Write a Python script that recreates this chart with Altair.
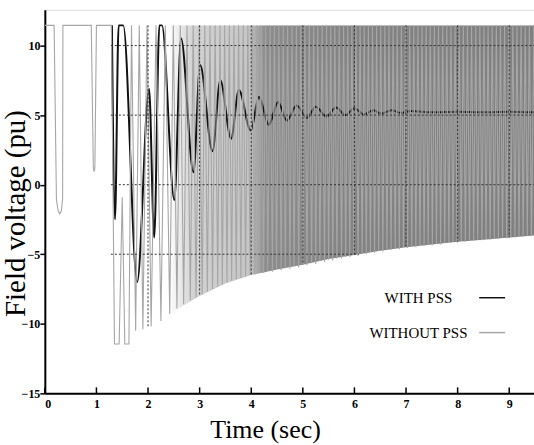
import altair as alt
import pandas as pd
import numpy as np

# ---------------- data ----------------
CEILING = 11.45   # exciter ceiling (pu)

# WITH PSS : field voltage (extremes, from the first drop)
with_t = [1.30, 1.36, 1.43, 1.52, 1.79, 2.02, 2.12, 2.22, 2.27, 2.51, 2.64,
          2.88, 3.01, 3.25, 3.40, 3.61, 3.76, 3.99, 4.15, 4.34, 4.52, 4.69, 4.88,
          5.08, 5.25, 5.46, 5.64, 5.83, 6.00, 6.18, 6.37, 6.52, 6.72, 6.90, 7.10,
          7.50, 8.00, 8.50, 9.00, 9.48]
with_v = [11.45, -2.5, 11.45, 11.45, -7.0, 6.9, -3.8, 11.45, 11.45, -1.1, 10.5,
          0.9, 8.6, 2.4, 7.5, 3.3, 6.8, 3.9, 6.3, 4.3, 5.95, 4.6, 5.7,
          4.8, 5.6, 4.9, 5.55, 5.0, 5.5, 5.05, 5.35, 5.1, 5.35, 5.15, 5.3,
          5.2, 5.25, 5.2, 5.25, 5.2]

# WITHOUT PSS : first part of the trace (before the sustained oscillation)
early_t = [0.0, 0.18, 0.225, 0.26, 0.29, 0.32, 0.345, 0.35, 0.90, 0.94, 0.955, 0.97,
           1.00, 1.29, 1.35, 1.44, 1.50, 1.55, 1.63, 1.68]
early_v = [11.45, 11.45, -1.1, -1.9, -2.1, -1.9, -1.0, 11.45, 11.45, 1.2, 0.93, 1.2,
           11.45, 11.45, -11.45, -11.45, -0.9, -11.45, -11.45, 11.45]

# WITHOUT PSS : troughs of the sustained oscillation (peaks sit at the ceiling)
trough_t = [1.76, 1.90, 2.06, 2.25, 2.42, 2.56, 2.69, 2.82, 2.93, 3.05, 3.15, 3.25,
            3.35, 3.44, 3.53, 3.62, 3.71, 3.80, 3.89, 3.98,
            4.07, 4.15, 4.24, 4.32, 4.41, 4.49, 4.58, 4.66, 4.75, 4.83, 4.92, 5.00,
            5.08, 5.17, 5.25, 5.33, 5.42, 5.50, 5.58, 5.66, 5.75, 5.83, 5.91, 5.99,
            6.07, 6.15, 6.23, 6.31, 6.39, 6.47, 6.55, 6.63, 6.71, 6.79, 6.87, 6.95,
            7.03, 7.11, 7.19, 7.27, 7.35, 7.43, 7.51, 7.59, 7.67, 7.75, 7.83, 7.91,
            7.99, 8.07, 8.15, 8.23, 8.31, 8.39, 8.47, 8.55, 8.63, 8.71, 8.79, 8.87,
            8.95, 9.03, 9.11, 9.19, 9.27, 9.35, 9.43]
trough_v = [-10.5, -10.4, -10.2, -9.8, -9.3, -8.9, -8.6, -8.3, -8.1, -7.9, -7.7, -7.5,
            -7.35, -7.2, -7.05, -6.9, -6.8, -6.7, -6.6, -6.5,
            -6.45, -6.3, -6.35, -6.2, -6.25, -6.1, -6.15, -6.0, -6.05, -5.9, -5.95, -5.75,
            -5.8, -5.65, -5.7, -5.5, -5.55, -5.4, -5.45, -5.3, -5.3, -5.2, -5.2, -5.05,
            -5.1, -4.95, -5.0, -4.85, -4.9, -4.75, -4.8, -4.65, -4.7, -4.6, -4.65, -4.5,
            -4.55, -4.45, -4.5, -4.35, -4.4, -4.3, -4.35, -4.25, -4.3, -4.2, -4.2, -4.1,
            -4.15, -4.05, -4.1, -4.0, -4.05, -3.95, -4.0, -3.9, -3.95, -3.85, -3.9, -3.8,
            -3.85, -3.75, -3.8, -3.7, -3.75, -3.65, -3.7]
end_t = 9.48

# lower envelope of the WITHOUT PSS band
env_t = [1.70, 2.0, 2.25, 2.5, 3.0, 3.5, 4.0, 4.5, 5.0, 5.5, 6.0, 6.5, 7.0, 7.5,
         8.0, 8.5, 9.0, 9.48]
env_v = [-10.5, -10.3, -9.8, -9.1, -8.0, -7.1, -6.5, -6.1, -5.75, -5.35, -5.05,
         -4.75, -4.5, -4.3, -4.1, -3.95, -3.8, -3.65]

x_ticks = [0, 1, 2, 3, 4, 5, 6, 7, 8, 9]
y_ticks = [-15, -10, -5, 0, 5, 10]
h_grid = [10, 5, 0, -5]
v_grid = [2, 3, 4, 5, 6, 7, 8, 9]
grid_start = 1.28

legend_labels = ["WITH PSS", "WITHOUT PSS"]
legend_colors = ["#111111", "#a6a6a6"]

# ---------------- tables ----------------
with_df = pd.DataFrame({"t": with_t, "v": with_v})

g_t = list(early_t)
g_v = list(early_v)
for i, (t, v) in enumerate(zip(trough_t, trough_v)):
    if i > 0:
        g_t.append((trough_t[i - 1] + t) / 2)
        g_v.append(CEILING)
    g_t.append(t)
    g_v.append(v)
g_t.append(end_t)
g_v.append(CEILING)
without_df = pd.DataFrame({"t": g_t, "v": g_v, "o": range(len(g_t))})

env_df = pd.DataFrame({"t": env_t, "v": env_v, "top": [CEILING] * len(env_t)})

cross_m5 = float(np.interp(-5, env_v, env_t))
hgrid_df = pd.DataFrame({
    "y": h_grid,
    "x1": [grid_start] * len(h_grid),
    "x2": [end_t if h > -5 else cross_m5 for h in h_grid],
})
vgrid_df = pd.DataFrame({
    "x": v_grid,
    "y1": [CEILING] * len(v_grid),
    "y2": [float(np.interp(t, env_t, env_v)) for t in v_grid],
})
xtick_df = pd.DataFrame({"x": x_ticks})

# ---------------- chart ----------------
XDOM = [0, end_t]
YDOM = [-15, 12.57]
SERIF = "Liberation Serif"

xscale = alt.Scale(domain=XDOM, nice=False, zero=False)
yscale = alt.Scale(domain=YDOM, nice=False, zero=False)

xaxis = alt.Axis(values=x_ticks, format="d", ticks=False, grid=False,
                 domainColor="#000", domainWidth=2,
                 labelFont=SERIF, labelFontSize=12, labelFontWeight="bold",
                 labelColor="#000", labelPadding=5,
                 title="Time (sec)", titleFont=SERIF, titleFontSize=26,
                 titleFontWeight="normal", titleColor="#000",
                 titleX=221, titleY=44, titleBaseline="alphabetic", titleAlign="center")
yaxis = alt.Axis(values=y_ticks, format="d", grid=False,
                 domainColor="#000", domainWidth=2,
                 tickColor="#000", tickSize=5, tickWidth=1.5,
                 labelFont=SERIF, labelFontSize=12, labelFontWeight="bold",
                 labelColor="#000", labelPadding=0,
                 title="Field voltage (pu)", titleFont=SERIF, titleFontSize=29,
                 titleFontWeight="normal", titleColor="#000",
                 titleX=-20, titleY=204, titleAngle=-90,
                 titleBaseline="alphabetic", titleAlign="center")

band = alt.Chart(env_df).mark_area(
    clip=True,
    color=alt.LinearGradient(
        gradient="linear", x1=0, x2=1, y1=0, y2=0,
        stops=[alt.GradientStop(color="#ffffff", offset=0.0),
               alt.GradientStop(color="#ffffff", offset=0.09),
               alt.GradientStop(color="#d2d2d2", offset=0.15),
               alt.GradientStop(color="#c6c6c6", offset=0.29),
               alt.GradientStop(color="#8c8c8c", offset=0.33),
               alt.GradientStop(color="#838383", offset=0.55),
               alt.GradientStop(color="#808080", offset=1.0)]),
).encode(
    x=alt.X("t:Q", scale=xscale, axis=xaxis),
    y=alt.Y("v:Q", scale=yscale, axis=yaxis),
    y2="top:Q",
)

with_line = alt.Chart(with_df).mark_line(
    clip=True, color=legend_colors[0], strokeWidth=2, interpolate="monotone"
).encode(x="t:Q", y="v:Q")

without_line = alt.Chart(without_df).mark_line(
    clip=True, color=legend_colors[1], strokeWidth=1.1
).encode(x="t:Q", y="v:Q", order="o:Q")

hgrid = alt.Chart(hgrid_df).mark_rule(
    color="#333", strokeWidth=1, strokeDash=[2, 2]
).encode(x="x1:Q", x2="x2:Q", y="y:Q")

vgrid = alt.Chart(vgrid_df).mark_rule(
    color="#333", strokeWidth=1, strokeDash=[2, 2]
).encode(x="x:Q", y="y1:Q", y2="y2:Q")

xticks = alt.Chart(xtick_df).mark_rule(color="#000", strokeWidth=1.5).encode(
    x="x:Q", y=alt.value(385), y2=alt.value(379))

leg_layers = []
leg_y = [289, 324]
for lab, col, ly in zip(legend_labels, legend_colors, leg_y):
    leg_layers.append(
        alt.Chart(pd.DataFrame({"label": [lab]})).mark_text(
            font=SERIF, fontSize=15, color="#000", align="center", baseline="middle"
        ).encode(x=alt.value(375), y=alt.value(ly), text="label:N"))
    leg_layers.append(
        alt.Chart(pd.DataFrame({"label": [lab]})).mark_rule(
            color=col, strokeWidth=1.5
        ).encode(x=alt.value(436), x2=alt.value(462), y=alt.value(ly)))

chart = alt.layer(band, with_line, without_line, hgrid, vgrid, xticks, *leg_layers).properties(
    width=491, height=385,
    autosize=alt.AutoSizeParams(type="none"),
    padding={"left": 45, "top": 9, "right": 0, "bottom": 51},
).configure_view(stroke="#333", strokeWidth=2).configure(background="white")

chart.save("out.html", embed_options={"renderer": "svg", "actions": False})
